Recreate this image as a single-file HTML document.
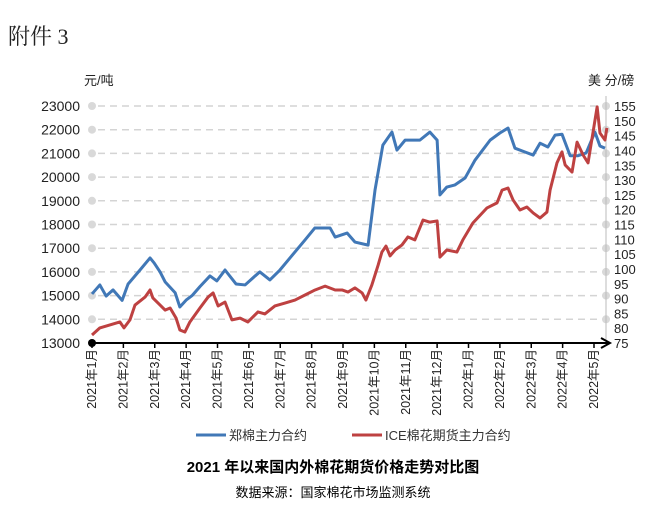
<!DOCTYPE html>
<html><head><meta charset="utf-8"><style>
body{margin:0;background:#fff;width:667px;height:522px;overflow:hidden}
svg text{font-family:"Liberation Sans","Noto Sans CJK SC",sans-serif}
</style></head><body>
<svg id="c" width="667" height="522">
<text x="8" y="44" font-size="22" style="font-family:'Liberation Serif','Noto Serif CJK SC',serif" fill="#222">附件 3</text>
<text x="84" y="85" font-size="13" fill="#222">元/吨</text>
<text x="588" y="85" font-size="13" fill="#222">美 分/磅</text>
<g id="grid"></g><g id="axes"></g><g id="series"></g>
<g>
<line x1="196" y1="435" x2="226" y2="435" stroke="#4178B7" stroke-width="3"/>
<text x="229" y="440" font-size="13" fill="#333">郑棉主力合约</text>
<line x1="352" y1="435" x2="382" y2="435" stroke="#BE4141" stroke-width="3"/>
<text x="385" y="440" font-size="13" fill="#333">ICE棉花期货主力合约</text>
</g>
<text x="333" y="472" font-size="15" font-weight="bold" text-anchor="middle" fill="#000">2021 年以来国内外棉花期货价格走势对比图</text>
<text x="333" y="497" font-size="13" text-anchor="middle" fill="#000">数据来源：国家棉花市场监测系统</text>
</svg>
<script>
const monthLabels=["2021年1月","2021年2月","2021年3月","2021年4月","2021年5月","2021年6月","2021年7月","2021年8月","2021年9月","2021年10月","2021年11月","2021年12月","2022年1月","2022年2月","2022年3月","2022年4月","2022年5月"];
const leftTicks=[13000,14000,15000,16000,17000,18000,19000,20000,21000,22000,23000];
const rightTicks=[75,80,85,90,95,100,105,110,115,120,125,130,135,140,145,150,155];
const zceT=[0,0.25,0.45,0.67,0.96,1.15,1.53,1.85,1.98,2.17,2.33,2.65,2.8,3.0,3.19,3.44,3.76,3.98,4.24,4.59,4.88,5.2,5.35,5.67,5.99,6.31,6.79,7.1,7.59,7.75,8.13,8.38,8.8,9.02,9.27,9.56,9.72,9.98,10.14,10.45,10.77,11.0,11.09,11.31,11.57,11.89,12.21,12.69,13.0,13.26,13.48,13.8,14.06,14.28,14.53,14.76,14.98,15.24,15.49,15.75,16.03,16.19,16.35];
const zceV=[15070,15450,14980,15240,14800,15490,16080,16590,16380,16000,15580,15120,14520,14810,15000,15380,15830,15620,16080,15490,15450,15830,16000,15660,16080,16590,17350,17850,17850,17470,17640,17260,17130,19450,21350,21900,21140,21560,21560,21560,21900,21560,19250,19580,19670,19960,20720,21560,21860,22070,21220,21060,20930,21430,21270,21770,21810,20900,20900,21020,21900,21310,21220];
const iceX=[92,100,110,120,124,130,135,145,150,153,160,165,170,176,180,185,190,200,208,213,218,225,232,240,248,258,265,275,285,295,305,315,325,335,342,348,355,362,366,372,378,382,386,390,395,402,408,415,423,430,437,440,447,457,463,473,487,497,502,508,513,520,527,533,540,547,550,557,562,565,572,577,583,588,593,597,600,605,607];
const iceT=iceX.map(x=>+((x-92)/31.375).toFixed(2));
const iceV=[77.7,80.1,81.1,82.1,80.1,82.8,87.8,90.5,92.9,90.2,87.8,86.1,86.8,83.4,79.4,78.7,82.1,86.8,90.5,91.9,87.5,88.8,82.8,83.4,82.1,85.5,84.8,87.5,88.5,89.5,91.2,92.9,94.2,92.9,92.9,92.2,93.6,91.9,89.5,94.6,101.3,105.7,107.7,104.4,106.4,108.1,110.8,109.8,116.5,115.8,116.2,104,106.4,105.7,109.8,115.5,120.6,122.3,126.6,127.3,123.3,119.9,120.9,118.9,117.2,119.2,126.6,135.8,139.5,135.1,132.7,142.8,138.5,135.8,146.2,154.7,145.9,143.5,147.6];
const NS="http://www.w3.org/2000/svg";
const X0=92,X1=607,Y0=343,Y1=106;
const xs=t=>X0+t*31.375;
const yL=v=>Y0-(v-13000)/10000*(Y0-Y1);
const yR=v=>Y0-(v-75)/80*(Y0-Y1);
function mk(tag,attrs,parent){const e=document.createElementNS(NS,tag);for(const k in attrs)e.setAttribute(k,attrs[k]);parent.appendChild(e);return e;}
const grid=document.getElementById('grid'),axes=document.getElementById('axes'),ser=document.getElementById('series');
leftTicks.forEach(v=>{const y=yL(v);
 if(v>13000){const l=mk('line',{x1:X0+6,x2:X1-2,y1:y,y2:y,stroke:'#d4d4d4','stroke-width':1.5,'stroke-dasharray':'7,5'},grid);
 
 
 const c=mk('circle',{cx:X0,cy:y,r:4,fill:'#d9d9d9'},grid);
 
 
 const c2=mk('circle',{cx:X1-1,cy:y,r:4,fill:'#d9d9d9'},grid);
 
 }
 const t=mk('text',{x:80,y:y+5,'font-size':14,'text-anchor':'end',fill:'#222'},axes);t.textContent=v;
 
 });
rightTicks.forEach(v=>{const t=mk('text',{x:614,y:yR(v)+5,'font-size':13,fill:'#222'},axes);t.textContent=v;
 
 });
const ra=mk('line',{x1:X1-1,x2:X1-1,y1:96,y2:Y0,stroke:'#bbb','stroke-width':1},axes);


const xa=mk('line',{x1:X0,x2:X1+2,y1:Y0,y2:Y0,stroke:'#000','stroke-width':2},axes);


const ar=mk('path',{d:`M${X1-6},${Y0-5} L${X1+3},${Y0} L${X1-6},${Y0+5}`,fill:'none',stroke:'#000','stroke-width':2},axes);


const od=mk('circle',{cx:X0,cy:Y0,r:4,fill:'#000'},axes);


monthLabels.forEach((m,i)=>{const x=xs(i);
 const tk=mk('line',{x1:x,x2:x,y1:Y0,y2:Y0+5,stroke:'#000','stroke-width':1.5},axes);
 
 
 const t=mk('text',{x:0,y:0,'font-size':12.5,'text-anchor':'end',fill:'#222',transform:`translate(${x+4},${Y0+6}) rotate(-90)`},axes);t.textContent=m;
 
 });
const pz=mk('polyline',{points:zceT.map((t,i)=>xs(t)+','+yL(zceV[i])).join(' '),fill:'none',stroke:'#4178B7','stroke-width':3,'stroke-linejoin':'round'},ser);


const pi=mk('polyline',{points:iceT.map((t,i)=>xs(t)+','+yR(iceV[i])).join(' '),fill:'none',stroke:'#BE4141','stroke-width':3,'stroke-linejoin':'round'},ser);


</script>
</body></html>
